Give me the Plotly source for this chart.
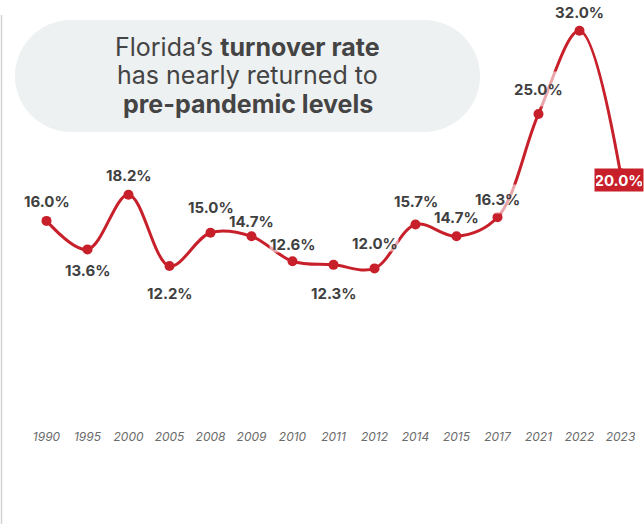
import plotly.graph_objects as go

years = ["1990", "1995", "2000", "2005", "2008", "2009", "2010", "2011",
         "2012", "2014", "2015", "2017", "2021", "2022", "2023"]
turnover = [16.0, 13.6, 18.2, 12.2, 15.0, 14.7, 12.6, 12.3,
            12.0, 15.7, 14.7, 16.3, 25.0, 32.0, 20.0]
labels = [f"{v:.1f}%" for v in turnover]

# label styling: vertical offsets (px) and backdrop heights (px)
label_shift = [20, -21, 20, -27, 26, 15, 17, -28, 25, 23, 19, 18, 25, 19, -7]
label_box_h = [16, 16, 16, 16, 16, 14, 16, 16, 16, 16, 16, 28, 34, 16, 20]

RED = "#c8202b"
TXT = "#3f3f3f"
FONT = "Inter"

W, H = 644, 524
ML, MR, MT, MB = 26, 3, 7, 113
PW, PH = W - ML - MR, H - MT - MB


def px(X):
    return (X - ML) / PW


def py(Y):
    return (H - MB - Y) / PH


fig = go.Figure()
fig.add_trace(go.Scatter(
    x=years, y=turnover, mode="lines+markers",
    line=dict(color=RED, width=3, shape="spline", smoothing=1.0),
    marker=dict(color=RED, size=10),
    hoverinfo="skip", showlegend=False,
))

annotations = []
for i, (v, lab) in enumerate(zip(turnover, labels)):
    last = i == len(years) - 1
    if last:
        annotations.append(dict(
            x=i, y=v, xref="x", yref="y", text=f"<b>{lab}</b>",
            showarrow=False, yshift=label_shift[i], xshift=-2,
            font=dict(family=FONT, size=15, color="white"),
            bgcolor=RED, borderpad=1, width=46, height=label_box_h[i],
        ))
    else:
        annotations.append(dict(
            x=i, y=v, xref="x", yref="y", text=f"<b>{lab}</b>",
            showarrow=False, yshift=label_shift[i],
            font=dict(family=FONT, size=15, color=TXT),
            bgcolor="rgba(255,255,255,0.6)", borderpad=0, height=label_box_h[i],
        ))

title_lines = ["Florida’s <b>turnover rate</b>", "has nearly returned to",
               "<b>pre-pandemic levels</b>"]
title_y = [47, 75, 104]
for t, yy in zip(title_lines, title_y):
    annotations.append(dict(
        x=px(247.5), y=py(yy), xref="paper", yref="paper",
        xanchor="center", yanchor="middle", showarrow=False, text=t,
        font=dict(family=FONT, size=25, color="#444444"),
    ))

PILL = "#eef1f2"
shapes = [
    dict(type="rect", xref="paper", yref="paper", x0=px(71), x1=px(424),
         y0=py(132), y1=py(20), fillcolor=PILL, line=dict(width=0), layer="below"),
    dict(type="circle", xref="paper", yref="paper", x0=px(15), x1=px(127),
         y0=py(132), y1=py(20), fillcolor=PILL, line=dict(width=0), layer="below"),
    dict(type="circle", xref="paper", yref="paper", x0=px(368), x1=px(480),
         y0=py(132), y1=py(20), fillcolor=PILL, line=dict(width=0), layer="below"),
    dict(type="line", xref="paper", yref="paper", x0=px(1.5), x1=px(1.5),
         y0=py(524), y1=py(15), line=dict(color="#d4d4d4", width=1.5)),
]

fig.update_layout(
    width=W, height=H,
    margin=dict(l=ML, r=MR, t=MT, b=MB),
    paper_bgcolor="white", plot_bgcolor="white",
    annotations=annotations, shapes=shapes,
    xaxis=dict(type="category", range=[-0.5, len(years) - 0.5],
               showgrid=False, zeroline=False, showline=False, ticks="",
               tickfont=dict(family=FONT, size=12, color="#6b6b6b", style="italic"),
               ticklabelstandoff=17, fixedrange=True),
    yaxis=dict(range=[0, 34], visible=False, fixedrange=True),
)

fig.write_html("out.html", config={"displayModeBar": False},
               post_script="document.body.style.margin='0';")
